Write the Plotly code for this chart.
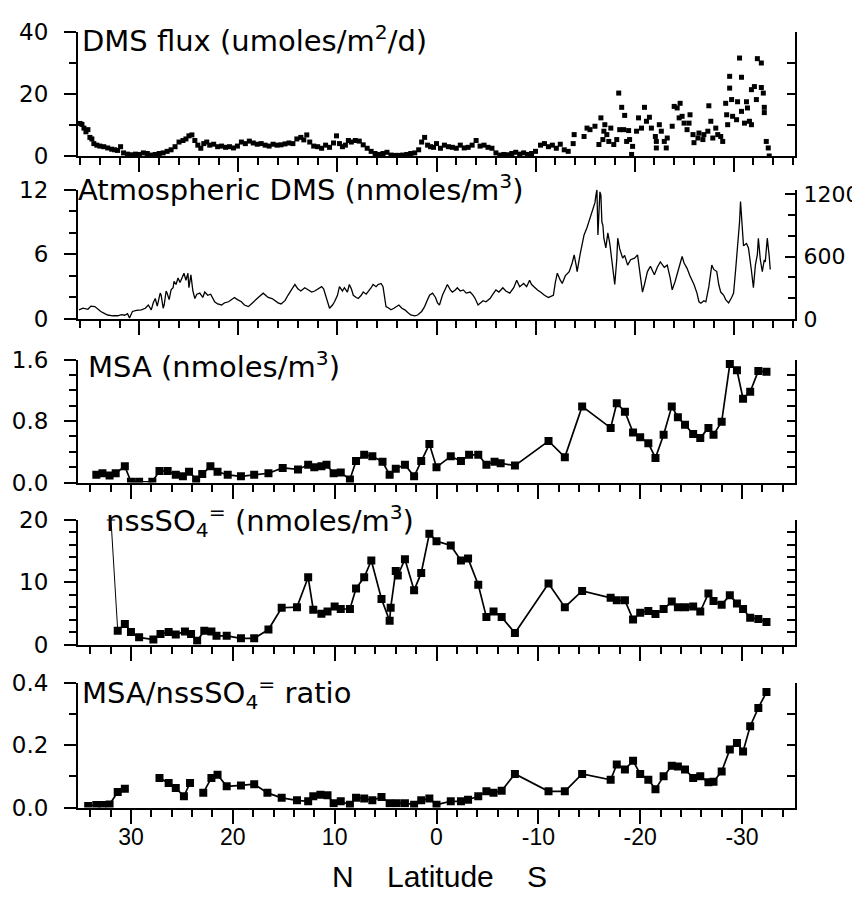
import plotly.graph_objects as go

# ---------------- DATA ----------------
# Panel 1: DMS flux (umoles/m2/d) vs latitude
flux_lat = [36.0, 35.8, 35.6, 35.4, 35.2, 35.0, 34.8, 34.6, 34.3, 34.0, 33.6, 33.2, 32.8, 32.5, 32.2, 31.9,
            31.6, 31.2, 30.8, 30.4, 30.0, 29.6, 29.2, 28.8, 28.4, 28.0, 27.6, 27.2, 26.8, 26.4, 26.0, 25.6,
            25.3, 25.0, 24.7, 24.4, 24.1, 23.8, 23.5, 23.2, 22.9, 22.5, 22.1, 21.7, 21.3, 20.9, 20.5, 20.1,
            19.7, 19.3, 18.9, 18.5, 18.1, 17.7, 17.3, 16.9, 16.5, 16.1, 15.7, 15.3, 14.9, 14.5, 14.1, 13.7,
            13.4, 13.1, 12.8, 12.4, 12.0, 11.6, 11.2, 10.8, 10.4, 10.1, 9.8, 9.5, 9.2, 8.9, 8.6, 8.2,
            7.8, 7.4, 7.0, 6.6, 6.2, 5.8, 5.4, 5.0, 4.6, 4.2, 3.8, 3.4, 3.0, 2.6, 2.2, 1.8,
            1.5, 1.2, 0.9, 0.6, 0.3, 0.0, -0.4, -0.8, -1.2, -1.6, -2.0, -2.4, -2.8, -3.2, -3.6, -4.0,
            -4.4, -4.8, -5.2, -5.6, -6.0, -6.4, -6.8, -7.2, -7.6, -8.0, -8.4, -8.8, -9.2, -9.6, -10.0, -10.5,
            -10.9, -11.3, -11.7, -12.1, -12.5, -12.9, -13.3, -13.8,
            -13.9, -14.9, -15.2, -15.5, -16.0, -16.6, -16.4, -16.8, -16.9, -17.0, -17.2, -17.4, -17.6, -17.9,
            -18.2, -18.4, -18.5, -18.7, -19.0, -18.9, -19.4, -19.2, -19.5, -19.7, -19.8, -20.2, -20.4, -20.7,
            -21.0, -21.2, -21.5, -21.7, -22.1, -22.2, -22.2, -22.5, -22.7, -23.0, -23.2, -23.3, -23.8, -24.0,
            -24.3, -24.5, -24.6, -24.8, -25.0, -25.3, -25.6, -25.5, -25.9, -26.0, -26.4, -26.5, -26.9, -27.0,
            -27.4, -27.5, -27.7, -27.9, -28.2, -28.4, -28.7, -28.9, -29.2, -29.3, -29.4, -29.6, -29.6, -29.8,
            -29.9, -30.3, -30.4, -30.6, -30.8, -30.8, -31.1, -31.3, -31.4, -31.6, -31.8, -31.8, -32.1, -32.3,
            -32.4, -32.8, -32.8, -33.0, -33.1, -33.1, -33.3, -33.5, -33.6]
flux_val = [10.5, 10.2, 9.0, 7.8, 8.5, 6.0, 5.5, 4.0, 3.5, 3.2, 3.0, 2.6, 2.2, 2.0, 1.8, 3.0,
            1.0, 0.6, 0.4, 0.6, 0.5, 1.0, 0.8, 0.3, 0.5, 0.8, 1.0, 1.5, 2.0, 3.0, 4.5, 5.0,
            5.5, 6.5, 6.8, 5.0, 3.5, 2.5, 4.0, 4.5, 3.5, 3.8, 3.0, 3.2, 2.8, 3.0, 2.6, 3.2,
            4.5, 4.0, 4.8, 4.2, 3.8, 4.0, 3.5, 3.2, 3.8, 3.5, 3.6, 3.9, 4.2, 4.0, 5.5, 6.0,
            5.2, 6.8, 4.5, 3.2, 3.0, 2.5, 3.5, 2.8, 4.2, 6.5, 4.0, 3.0, 3.5, 5.0, 4.5, 5.0,
            4.8, 3.6, 2.5, 1.5, 0.8, 0.5, 0.8, 1.2, 0.3, 0.2, 0.2, 0.3, 0.5, 0.8, 1.0, 2.0,
            4.5, 6.0, 3.5, 3.0, 2.8, 4.0, 2.5, 3.5, 3.0, 2.8, 2.5, 3.5, 2.6, 2.8, 3.5, 5.0,
            3.2, 3.5, 2.8, 2.5, 1.0, 0.3, 0.5, 0.4, 0.8, 1.2, 0.6, 1.0, 0.5, 0.8, 1.5, 3.5,
            4.0, 3.0, 3.5, 2.5, 3.8, 2.0, 1.5, 4.0,
            6.9, 6.3, 9.0, 8.5, 9.6, 12.3, 3.7, 5.3, 8.0, 10.1, 6.9, 4.7, 9.0, 3.7,
            5.3, 20.3, 8.5, 15.7, 13.1, 8.5, 8.2, 4.7, 5.3, 0.5, 3.1, 8.0, 12.3, 9.0,
            15.7, 11.2, 12.5, 9.0, 6.3, 2.6, 4.7, 10.1, 8.0, 4.7, 2.6, 5.8, 9.6, 16.0,
            15.5, 12.3, 17.0, 12.8, 10.6, 8.5, 13.3, 10.6, 6.9, 4.3, 5.8, 7.4, 5.3, 6.9,
            8.0, 16.2, 11.2, 5.8, 9.0, 6.9, 6.3, 4.7, 17.0, 13.3, 10.1, 21.9, 25.7, 18.2,
            12.8, 11.7, 17.5, 31.6, 25.4, 14.4, 10.6, 17.5, 15.5, 11.2, 10.1, 21.4, 22.4, 18.2,
            31.4, 30.0, 22.1, 20.3, 15.7, 14.0, 4.7, 2.6, 0.0]

# Panel 2: Atmospheric DMS (nmoles/m3) vs latitude
dms_lat = [36.1, 35.7, 35.2, 34.9, 34.5, 34.2, 33.9, 33.5, 33.2, 32.7, 32.2, 31.8, 31.5, 31.2, 31.0, 30.7,
           30.3, 29.8, 29.4, 29.1, 28.8, 28.6, 28.4, 28.2, 28.1, 27.9, 27.8, 27.6, 27.5, 27.3, 27.2, 27.0,
           26.8, 26.6, 26.5, 26.3, 26.1, 25.9, 25.8, 25.6, 25.5, 25.3, 25.1, 25.0, 24.9, 24.8, 24.6, 24.4,
           24.2, 23.9, 23.6, 23.4, 23.1, 22.8, 22.4, 22.1, 21.7, 21.4, 21.0, 20.7, 20.4, 20.1, 19.7, 19.4,
           19.0, 18.7, 18.4, 18.0, 17.5, 17.2, 17.0, 16.6, 16.3, 16.0, 15.7, 15.3, 15.0, 14.6, 14.3, 14.0,
           13.7, 13.3, 13.0, 12.6, 12.3, 11.9, 11.6, 11.4, 11.2, 11.0, 10.8, 10.5, 10.3, 10.0, 9.8, 9.5,
           9.3, 9.0, 8.8, 8.6, 8.4, 8.1, 7.9, 7.6, 7.4, 7.1, 6.9, 6.6, 6.4, 6.1, 5.9, 5.6,
           5.4, 5.2, 5.1, 4.8, 4.6, 4.3, 4.0, 3.8, 3.5, 3.2, 2.9, 2.6, 2.2, 1.9, 1.5, 1.2,
           0.9, 0.7, 0.4, 0.1, -0.1, -0.3, -0.6, -0.9, -1.1, -1.4, -1.6, -1.9, -2.1, -2.4, -2.7, -3.0,
           -3.4, -3.7, -3.9, -4.2, -4.5, -4.7, -5.0, -5.4, -5.7, -6.0, -6.3, -6.7, -7.0, -7.4, -7.8, -8.1,
           -8.4, -8.8, -9.1, -9.4, -9.6, -9.8, -10.2, -10.5, -10.9, -11.3, -11.8, -12.0, -12.2, -12.5, -12.7, -13.0,
           -13.4, -13.7, -13.9, -14.1, -14.2, -14.5, -14.9, -15.2, -15.4, -15.6, -15.8, -16.0, -16.1, -16.2, -16.3, -16.5,
           -16.6, -16.7, -16.8, -16.9, -17.1, -17.3, -17.5, -17.7, -17.9, -18.0, -18.2, -18.3, -18.5, -18.8, -19.0, -19.3,
           -19.6, -20.0, -20.3, -20.5, -20.8, -21.0, -21.3, -21.6, -22.0, -22.3, -22.6, -23.0, -23.3, -23.6, -23.8, -24.1,
           -24.3, -24.6, -24.8, -25.0, -25.3, -25.6, -26.0, -26.3, -26.5, -26.7, -27.0, -27.2, -27.5, -27.8, -28.0, -28.3,
           -28.5, -28.7, -29.0, -29.2, -29.5, -29.8, -30.0, -30.2, -30.4, -30.6, -30.7, -30.9, -31.0, -31.3, -31.5, -31.8,
           -32.0, -32.2, -32.4, -32.5, -32.7, -32.9, -33.1, -33.2, -33.4, -33.6, -33.7]
dms_val = [0.84, 1.0, 0.9, 1.2, 1.15, 0.9, 0.7, 0.5, 0.37, 0.3, 0.3, 0.4, 0.35, 0.5, 0.1, 0.7,
           0.8, 0.85, 1.0, 1.3, 0.85, 1.5, 1.9, 1.2, 1.55, 2.4, 2.2, 1.0, 1.3, 2.6, 2.4, 1.8,
           2.7, 2.9, 3.5, 3.2, 3.8, 3.4, 3.6, 4.0, 4.25, 3.6, 4.25, 2.9, 3.8, 4.1, 2.6, 1.9,
           2.3, 2.4, 2.0, 2.5, 2.2, 2.3, 1.6, 1.4, 1.3, 1.5, 1.6, 1.8, 2.0, 1.8, 1.6, 1.3,
           1.15, 1.4, 1.7, 2.0, 2.4, 2.2, 2.0, 1.9, 1.7, 1.5, 1.4, 1.7, 2.2, 2.8, 3.2, 2.8,
           2.6, 2.9, 2.7, 2.5, 2.6, 2.8, 3.0, 2.8, 2.2, 1.5, 1.0, 1.3, 1.6, 2.2, 3.0, 2.6,
           2.9, 2.5, 3.2, 2.8, 2.2, 2.0, 1.9, 2.2, 2.5, 2.3, 2.5, 2.9, 3.2, 3.0, 3.2, 3.3,
           3.0, 2.0, 1.15, 1.0, 0.85, 1.0, 1.2, 1.3, 1.0, 0.85, 0.6, 0.37, 0.3, 0.37, 0.7, 1.15,
           1.8, 2.2, 2.4, 2.0, 1.5, 1.3, 2.2, 2.8, 3.2, 2.7, 2.5, 2.7, 2.9, 2.6, 2.7, 2.4,
           2.5, 2.2, 1.9, 1.3, 1.5, 1.7, 1.6, 1.9, 2.3, 2.7, 2.5, 2.9, 2.6, 2.4, 2.9, 3.6,
           3.0, 3.3, 3.0, 3.6, 3.2, 3.0, 2.7, 2.5, 2.2, 2.0, 2.2, 3.4, 4.25, 3.6, 3.3, 4.0,
           4.4, 5.2, 5.95, 5.0, 4.4, 6.0, 7.8, 8.5, 9.05, 9.8, 10.3, 10.8, 11.5, 12.0, 7.8, 11.8,
           11.5, 9.0, 8.7, 7.5, 6.6, 8.0, 7.0, 5.5, 4.0, 3.2, 5.5, 7.5, 6.5, 5.65, 5.9, 5.0,
           5.5, 5.65, 5.95, 4.5, 2.5, 3.2, 4.4, 4.9, 4.1, 4.8, 5.3, 4.8, 5.0, 3.8, 2.7, 3.5,
           4.1, 5.0, 5.8, 5.2, 4.7, 4.0, 3.2, 2.4, 1.6, 1.46, 1.7, 1.6, 3.0, 5.0, 4.6, 4.4,
           3.2, 2.5, 2.2, 1.8, 1.5, 2.0, 2.4, 4.5, 6.6, 9.0, 10.9, 8.5, 6.8, 7.0, 6.6, 4.5,
           2.9, 5.0, 6.0, 7.5, 5.5, 4.4, 5.5, 5.3, 7.5, 5.8, 4.6]

# Panel 3: MSA (nmoles/m3)
msa_lat = [33.4, 32.8, 32.1, 31.5, 30.6, 30.0, 29.2, 27.9, 27.2, 26.4, 25.6, 24.9, 24.3, 23.6, 23.0, 22.2,
           21.5, 20.5, 19.2, 17.9, 16.5, 15.1, 13.6, 12.6, 12.0, 11.3, 10.8, 10.1, 9.4, 8.5, 7.9, 7.1,
           6.3, 5.3, 4.6, 4.0, 3.1, 2.2, 1.5, 0.7, 0.0, -1.4, -2.4, -3.2, -4.1, -4.9, -5.7, -6.3,
           -7.7, -11.0, -12.6, -14.3, -17.1, -17.7, -18.5, -19.3, -20.0, -20.8, -21.5, -22.3, -23.1, -23.7,
           -24.4, -25.2, -25.9, -26.7, -27.2, -28.0, -28.8, -29.5, -30.1, -30.8, -31.6, -32.4]
msa_val = [0.10, 0.12, 0.09, 0.12, 0.21, 0.01, 0.01, 0.01, 0.15, 0.15, 0.10, 0.08, 0.14, 0.04, 0.11, 0.21,
           0.14, 0.10, 0.08, 0.10, 0.12, 0.19, 0.17, 0.23, 0.20, 0.21, 0.23, 0.12, 0.13, 0.04, 0.28, 0.36,
           0.34, 0.27, 0.10, 0.18, 0.23, 0.08, 0.28, 0.50, 0.20, 0.34, 0.28, 0.36, 0.36, 0.23, 0.27, 0.25,
           0.22, 0.54, 0.33, 0.99, 0.71, 1.03, 0.92, 0.65, 0.59, 0.51, 0.32, 0.62, 0.99, 0.85,
           0.75, 0.63, 0.58, 0.71, 0.62, 0.79, 1.54, 1.46, 1.09, 1.18, 1.45, 1.44]

# Panel 4: nssSO4= (nmoles/m3)
nss_lat = [31.96, 31.3, 30.6, 30.0, 29.2, 27.8, 27.1, 26.3, 25.6, 24.7, 24.1, 23.5, 22.8, 22.1, 21.6, 20.6,
           19.2, 17.9, 16.5, 15.2, 13.7, 12.6, 12.1, 11.3, 10.7, 10.0, 9.4, 8.5, 7.9, 7.1, 6.4, 5.4,
           4.6, 4.5, 4.0, 3.8, 3.1, 2.2, 1.5, 0.7, 0.0, -1.4, -2.4, -3.1, -4.1, -4.9, -5.6, -6.4,
           -7.7, -11.0, -12.6, -14.3, -17.1, -17.7, -18.5, -19.3, -20.0, -20.8, -21.5, -22.3, -23.1, -23.7,
           -24.4, -25.2, -25.9, -26.7, -27.2, -28.0, -28.8, -29.5, -30.1, -30.8, -31.6, -32.4]
nss_val = [20.0, 2.2, 3.3, 2.0, 1.15, 0.8, 1.7, 2.0, 1.6, 2.1, 1.7, 0.6, 2.2, 2.1, 1.4, 1.4,
           1.0, 1.0, 2.4, 5.9, 6.0, 10.8, 5.6, 4.95, 5.3, 6.1, 5.7, 5.7, 9.0, 10.8, 13.5, 7.3,
           3.8, 5.9, 11.8, 11.1, 13.7, 8.7, 11.5, 17.8, 16.6, 15.9, 13.5, 13.8, 9.6, 4.4, 5.3, 4.4,
           1.85, 9.8, 6.0, 8.6, 7.5, 7.1, 7.1, 4.0, 5.1, 5.4, 4.9, 5.7, 6.9, 6.0,
           6.0, 6.1, 5.3, 8.2, 7.0, 6.4, 7.9, 6.6, 5.7, 4.3, 4.1, 3.6]

# Panel 5: MSA/nssSO4= ratio (None = gap in the record)
ratio_lat = [34.2, 33.4, 32.8, 32.1, 31.3, 30.6, 29.0, 27.2, 26.3, 25.6, 24.8, 24.2, 23.5, 22.9, 22.1, 21.5,
             20.6, 19.2, 17.9, 16.6, 15.2, 13.7, 12.6, 12.1, 11.4, 10.7, 10.1, 9.4, 8.5, 7.9, 7.1, 6.3,
             5.4, 4.6, 3.9, 3.1, 2.2, 1.5, 0.7, 0.0, -1.4, -2.4, -3.1, -4.1, -4.9, -5.6, -6.4, -7.7,
             -11.0, -12.6, -14.3, -17.1, -17.7, -18.5, -19.3, -20.0, -20.8, -21.5, -22.3, -23.1, -23.7, -24.4,
             -25.2, -25.9, -26.7, -27.2, -28.0, -28.8, -29.5, -30.1, -30.8, -31.6, -32.4]
ratio_val = [0.005, 0.008, 0.008, 0.01, 0.05, 0.06, None, 0.095, 0.079, 0.063, 0.036, 0.079, None, 0.047, 0.095, 0.105,
             0.068, 0.071, 0.075, 0.047, 0.031, 0.023, 0.02, 0.036, 0.041, 0.039, 0.014, 0.02, 0.009, 0.031, 0.029, 0.023,
             0.034, 0.014, 0.014, 0.014, 0.009, 0.023, 0.029, 0.009, 0.02, 0.02, 0.025, 0.036, 0.052, 0.047, 0.054, 0.108,
             0.052, 0.052, 0.108, 0.089, 0.138, 0.122, 0.15, 0.108, 0.089, 0.059, 0.10, 0.134, 0.132, 0.122,
             0.095, 0.10, 0.081, 0.083, 0.116, 0.186, 0.207, 0.18, 0.261, 0.32, 0.371]

# Axis tick definitions
x_major_ticks = [30, 20, 10, 0, -10, -20, -30]
x_tick_text = ["30", "20", "10", "0", "-10", "-20", "-30"]
dms_right_ticks = [0, 600, 1200]

titles = ["DMS flux (umoles/m<sup>2</sup>/d)",
          "Atmospheric DMS (nmoles/m<sup>3</sup>)",
          "MSA (nmoles/m<sup>3</sup>)",
          "nssSO<sub>4</sub><sup>=</sup> (nmoles/m<sup>3</sup>)",
          "MSA/nssSO<sub>4</sub><sup>=</sup> ratio"]
xlabel = "N&nbsp;&nbsp;&nbsp;&nbsp;Latitude&nbsp;&nbsp;&nbsp;&nbsp;S"

# ---------------- LAYOUT ----------------
W, H = 860, 898
def fx(p):
    return p / W
def fy(p):
    return 1 - p / H

XL, XR = 70, 787
# (top px, bottom px) of each panel
pan = [(24, 148), (181.7, 311), (351.5, 474.5), (512, 636.5), (675, 799.5)]
yranges = [[0, 40], [0, 12], [0, 1.6], [0, 20], [0, 0.4]]
ymajor = [20, 6, 0.8, 10, 0.2]
yminor = [10, 2, 0.2, 2, 0.1]
xranges = [[36.2, -36.2], [36.2, -36.2], [35.2, -35.2], [35.2, -35.2], [35.2, -35.2]]
title_px = [(72, 31), (68, 180), (78, 356.5), (96, 513), (72, 685)]

TICKFONT = dict(family="DejaVu Sans", size=23, color="black")
RTICKFONT = dict(family="DejaVu Sans", size=22, color="black")
XTICKFONT = dict(family="Liberation Sans", size=23, color="black")

fig = go.Figure()

mk = dict(symbol="square", color="black")
fig.add_trace(go.Scatter(x=flux_lat, y=flux_val, mode="markers", xaxis="x", yaxis="y",
                         marker=dict(size=5, **mk), showlegend=False))
fig.add_trace(go.Scatter(x=dms_lat, y=dms_val, mode="lines", xaxis="x2", yaxis="y2",
                         line=dict(color="black", width=1.3), showlegend=False))
fig.add_trace(go.Scatter(x=msa_lat, y=msa_val, mode="lines+markers", xaxis="x3", yaxis="y3",
                         line=dict(color="black", width=1.7), marker=dict(size=8, **mk), showlegend=False))
fig.add_trace(go.Scatter(x=nss_lat[:2], y=nss_val[:2], mode="lines", xaxis="x4", yaxis="y4",
                         line=dict(color="black", width=1), showlegend=False))
fig.add_trace(go.Scatter(x=nss_lat[:1], y=nss_val[:1], mode="markers", xaxis="x4", yaxis="y4",
                         marker=dict(symbol="line-ew", size=6, line=dict(width=1, color="black")),
                         cliponaxis=False, showlegend=False))
fig.add_trace(go.Scatter(x=nss_lat[1:], y=nss_val[1:], mode="lines+markers", xaxis="x4", yaxis="y4",
                         line=dict(color="black", width=1.7), marker=dict(size=8, **mk), showlegend=False))
fig.add_trace(go.Scatter(x=ratio_lat, y=ratio_val, mode="lines+markers", xaxis="x5", yaxis="y5",
                         connectgaps=False,
                         line=dict(color="black", width=1.7), marker=dict(size=8, **mk), showlegend=False))

layout = dict(width=W, height=H, margin=dict(l=0, r=0, t=0, b=0),
              paper_bgcolor="white", plot_bgcolor="white", template="none", showlegend=False)

for i in range(5):
    n = i + 1
    xs = "" if n == 1 else str(n)
    top, bot = pan[i]
    dom = [fy(bot), fy(top)]
    layout["xaxis" + xs] = dict(
        domain=[fx(XL), fx(XR)], anchor="y" + xs, range=xranges[i],
        showline=True, linewidth=2, linecolor="black", showgrid=False, zeroline=False,
        ticks="outside", tickmode="array", tickvals=x_major_ticks, ticktext=x_tick_text,
        ticklen=14, tickwidth=2, tickcolor="black",
        minor=dict(dtick=2, tick0=0, ticks="outside", ticklen=7, tickwidth=2, tickcolor="black"),
        showticklabels=(n == 5), tickfont=XTICKFONT, automargin=False, ticklabelstandoff=-6)
    layout["yaxis" + xs] = dict(
        domain=dom, anchor="x" + xs, range=yranges[i], side="left",
        showline=True, linewidth=2, linecolor="black", showgrid=False, zeroline=False,
        ticks="outside", dtick=ymajor[i], tick0=0, ticklen=12, tickwidth=2, tickcolor="black",
        minor=dict(dtick=yminor[i], tick0=0, ticks="outside", ticklen=7, tickwidth=2, tickcolor="black"),
        tickfont=TICKFONT, automargin=False, ticklabelstandoff=11,
        tickformat=(".1f" if n in (3, 5) else None))
    # right-hand frame axis
    rn = str(n + 5)
    if n == 2:
        layout["yaxis" + rn] = dict(
            overlaying="y2", anchor="x2", side="right", range=[0, 1245],
            showline=True, linewidth=2, linecolor="black", showgrid=False, zeroline=False,
            ticks="inside", tickmode="array", tickvals=dms_right_ticks, ticklen=10, tickwidth=2,
            tickcolor="black",
            minor=dict(dtick=200, tick0=0, ticks="inside", ticklen=7, tickwidth=2, tickcolor="black"),
            tickfont=RTICKFONT, automargin=False, ticklabelstandoff=2)
    else:
        layout["yaxis" + rn] = dict(
            overlaying="y" + xs, anchor="x" + xs, side="right", range=yranges[i],
            showline=True, linewidth=2, linecolor="black", showgrid=False, zeroline=False,
            ticks="inside", dtick=yminor[i], tick0=0, ticklen=8, tickwidth=2, tickcolor="black",
            showticklabels=False, automargin=False)

# empty traces so the right-hand overlay axes are attached to their subplots
for i in range(5):
    n = i + 1
    xs = "" if n == 1 else str(n)
    fig.add_trace(go.Scatter(x=[], y=[], xaxis="x" + xs, yaxis="y" + str(n + 5),
                             showlegend=False, hoverinfo="skip"))

annots = []
for i in range(5):
    ax, ay = title_px[i]
    annots.append(dict(text=titles[i], x=fx(ax), y=fy(ay), xref="paper", yref="paper",
                       xanchor="left", yanchor="middle", showarrow=False,
                       font=dict(family="DejaVu Sans", size=29, color="black")))
annots.append(dict(text=xlabel, x=fx(431), y=fy(868), xref="paper", yref="paper",
                   xanchor="center", yanchor="middle", showarrow=False,
                   font=dict(family="Liberation Sans", size=30, color="black")))
layout["annotations"] = annots

fig.update_layout(**layout)
fig.write_html("out.html")
